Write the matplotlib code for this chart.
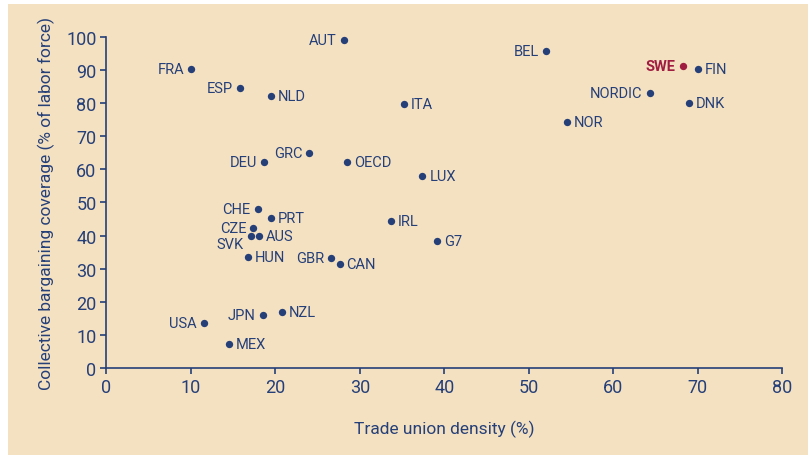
import matplotlib
matplotlib.use("Agg")
import matplotlib.pyplot as plt
from matplotlib.patches import Rectangle

# ---------- data ----------
countries = ["FRA", "ESP", "NLD", "AUT", "BEL", "SWE", "FIN", "NORDIC", "DNK", "NOR",
             "ITA", "GRC", "DEU", "OECD", "LUX", "CHE", "PRT", "CZE", "SVK", "AUS",
             "IRL", "G7", "HUN", "GBR", "CAN", "USA", "JPN", "NZL", "MEX"]
union_density = [10.0, 15.8, 19.5, 28.1, 52.0, 68.2, 70.0, 64.3, 68.9, 54.5,
                 35.2, 24.0, 18.7, 28.5, 37.4, 17.9, 19.5, 17.4, 17.1, 18.1,
                 33.7, 39.1, 16.8, 26.6, 27.6, 11.5, 18.5, 20.8, 14.5]
coverage = [90.2, 84.5, 82.3, 99.1, 95.9, 91.2, 90.2, 83.2, 80.0, 74.3,
            79.9, 65.0, 62.1, 62.1, 57.9, 48.0, 45.2, 42.4, 40.0, 40.0,
            44.3, 38.3, 33.5, 33.1, 31.5, 13.7, 16.1, 17.0, 7.2]
# which side of the dot the label sits on
label_side = ["l", "l", "r", "l", "l", "l", "r", "l", "r", "r",
              "r", "l", "l", "r", "r", "l", "r", "l", "lb", "r",
              "r", "r", "r", "l", "r", "l", "l", "r", "r"]
highlight = "SWE"

navy = "#253f78"
red = "#a01c40"
beige = "#f4e1c2"

plt.rcParams['font.family'] = ['Roboto', 'DejaVu Sans']

fig = plt.figure(figsize=(8.08, 4.56), dpi=100, facecolor="white")
fig.patches.append(Rectangle((8 / 808, 0), 1, 451 / 456, transform=fig.transFigure,
                             facecolor=beige, edgecolor="none", zorder=-10))
ax = fig.add_axes([0.1316, 0.1908, 0.8366, 0.7259])
ax.patch.set_alpha(0)

for name, xv, yv, side in zip(countries, union_density, coverage, label_side):
    col = red if name == highlight else navy
    ax.scatter(xv, yv, s=28, color=col, zorder=3, clip_on=False, linewidths=0)
    if side == "l":
        off, ha = (-5, 0), "right"
    elif side == "lb":
        off, ha = (-5, -6), "right"
    else:
        off, ha = (5, 0), "left"
    ax.annotate(name, (xv, yv), xytext=off, textcoords="offset points",
                ha=ha, va="center", fontsize=10.5, color=col,
                fontweight="bold" if name == highlight else "normal")

ax.set_xlim(0, 80)
ax.set_ylim(0, 100)
ax.set_xticks(range(0, 81, 10))
ax.set_yticks(range(0, 101, 10))
for s in ["top", "right"]:
    ax.spines[s].set_visible(False)
for s in ["left", "bottom"]:
    ax.spines[s].set_color(navy)
    ax.spines[s].set_linewidth(1.2)
ax.tick_params(colors=navy, labelsize=13, length=4, width=1.2, direction="out", pad=3)

ax.set_xlabel("Trade union density (%)", fontsize=12.5, color=navy, labelpad=17)
ax.set_ylabel("Collective bargaining coverage (% of labor force)", fontsize=12.5,
              color=navy, labelpad=8)

plt.savefig("out.png", dpi=100, facecolor=fig.get_facecolor())
